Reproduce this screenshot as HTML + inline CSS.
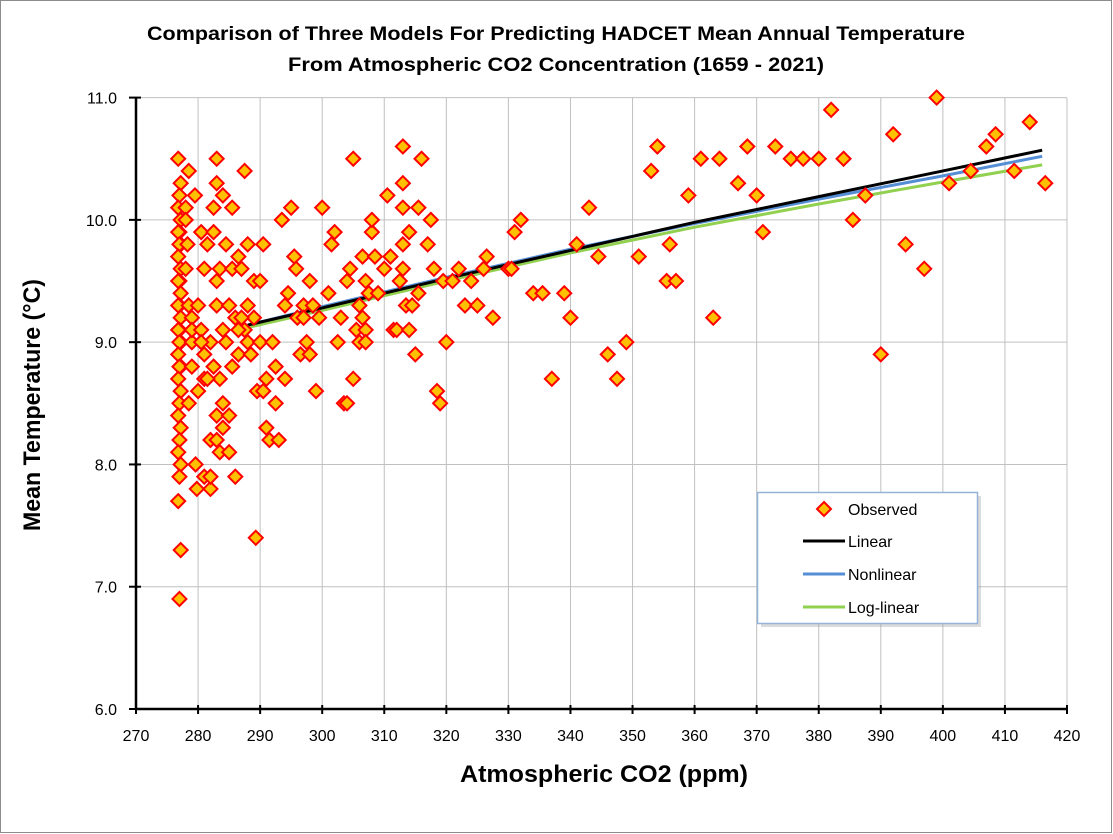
<!DOCTYPE html>
<html><head><meta charset="utf-8"><style>
body{margin:0;background:#fff}
svg{display:block;font-family:"Liberation Sans",sans-serif}
</style></head><body>
<svg id="chart" width="1113" height="834">
<rect x="0.5" y="0.5" width="1111" height="832" fill="#fff" stroke="#8c8c8c"/>
<text x="556" y="40" text-anchor="middle" font-size="19" font-weight="bold" textLength="818" lengthAdjust="spacingAndGlyphs">Comparison of Three Models For Predicting HADCET Mean Annual Temperature</text>
<text x="556" y="71" text-anchor="middle" font-size="19" font-weight="bold" textLength="536" lengthAdjust="spacingAndGlyphs">From Atmospheric CO2 Concentration (1659 - 2021)</text>
<text transform="translate(40,405) rotate(-90)" text-anchor="middle" font-size="24" font-weight="bold" textLength="252" lengthAdjust="spacingAndGlyphs">Mean Temperature (°C)</text>
<text x="604" y="782" text-anchor="middle" font-size="24" font-weight="bold" textLength="288" lengthAdjust="spacingAndGlyphs">Atmospheric CO2 (ppm)</text>
<g id="grid"></g><g id="lines"></g><g id="points"></g><g id="axes"></g>
<g>
<rect x="761" y="496" width="220" height="131" fill="#999" opacity="0.35"/>
<rect x="757.5" y="492.5" width="220" height="131" fill="#fff" stroke="#95b3d7" stroke-width="1.5"/>
<path d="M824 502 L831 509 L824 516 L817 509 Z" fill="#ffc000" stroke="#ff0000" stroke-width="2"/>
<text x="848" y="515" font-size="16">Observed</text>
<line x1="803" y1="541" x2="845" y2="541" stroke="#000" stroke-width="3"/>
<text x="848" y="547" font-size="16">Linear</text>
<line x1="803" y1="574" x2="845" y2="574" stroke="#558ed5" stroke-width="3"/>
<text x="848" y="580" font-size="16">Nonlinear</text>
<line x1="803" y1="607" x2="845" y2="607" stroke="#92d050" stroke-width="3"/>
<text x="848" y="613" font-size="16">Log-linear</text>
</g>
</svg>
<script>
const xTicks=[270,280,290,300,310,320,330,340,350,360,370,380,390,400,410,420];
const yTicks=[6,7,8,9,10,11];
const yTickLabels=["6.0","7.0","8.0","9.0","10.0","11.0"];
const col277=[10.5,10.3,10.2,10.1,10.0,9.9,9.9,9.8,9.8,9.7,9.6,9.5,9.5,9.4,9.3,9.3,9.2,9.1,9.1,9.0,9.0,8.9,8.8,8.8,8.7,8.6,8.5,8.4,8.3,8.2,8.1,8.0,7.9,7.7,7.3,6.9];
const obsX=[278.5,278,278,278.3,279,279,279,278.5,278,278.5,279.5,279,279.6,279.8,280,280,280.5,281,280.5,281,281,281,281.5,282,282,282,282,282.5,282.5,283,283,283,283,283,283,283.5,283.5,283.5,284,284,284,284,284.5,285,285,285,285.5,285.5,286,286,286.5,286.5,287,287.5,287.5,288,288,288,289,289,289.3,289.5,290,290,290.5,290.5,291,291,291.5,292,292.5,292.5,293,293.5,294,294,294.5,295,295.5,295.8,296,296.5,297,297,297.5,298,298,298.5,299,299.5,300,301,301.5,302,302.5,303,303.5,304,304,304.5,305,305,305.5,306,306,306.5,306.5,307,307,307,307.5,308,308,308.5,309,310,310.5,311,311.5,312,312.5,313,313,313,313,313,313.5,314,314,314.5,315,315.5,315.5,316,317,317.5,318,318.5,319,319.5,320,321,322,323,324,325,326,326.5,327.5,330,330.5,331,332,334,335.5,337,339,340,341,343,344.5,346,347.5,349,351,353,354,355.5,356,357,359,361,363,364,367,368.5,370,371,373,375.5,377.5,380,382,384,385.5,387.5,390,392,394,397,399,401,404.5,407,408.5,411.5,414,416.5,280.5,281.5,282.5,284.5,285.5,286.5,287,288.5];
const obsY=[10.4,10.1,10.0,9.8,9.2,9.0,8.8,8.5,9.6,9.3,10.2,9.1,8.0,7.8,8.6,9.3,9.9,9.6,9.1,8.9,8.7,7.9,9.8,9.0,8.2,7.8,7.9,10.1,9.9,10.5,10.3,9.5,9.3,8.4,8.2,9.6,8.7,8.1,10.2,9.1,8.5,8.3,9.8,9.3,8.4,8.1,10.1,9.6,9.2,7.9,9.7,8.9,9.6,10.4,9.1,9.8,9.3,9.0,9.5,9.2,7.4,8.6,9.5,9.0,9.8,8.6,8.7,8.3,8.2,9.0,8.8,8.5,8.2,10.0,9.3,8.7,9.4,10.1,9.7,9.6,9.2,8.9,9.3,9.2,9.0,9.5,8.9,9.3,8.6,9.2,10.1,9.4,9.8,9.9,9.0,9.2,8.5,9.5,8.5,9.6,10.5,8.7,9.1,9.3,9.0,9.7,9.2,9.5,9.1,9.0,9.4,9.9,10.0,9.7,9.4,9.6,10.2,9.7,9.1,9.1,9.5,10.6,10.3,10.1,9.8,9.6,9.3,9.9,9.1,9.3,8.9,10.1,9.4,10.5,9.8,10.0,9.6,8.6,8.5,9.5,9.0,9.5,9.6,9.3,9.5,9.3,9.6,9.7,9.2,9.6,9.6,9.9,10.0,9.4,9.4,8.7,9.4,9.2,9.8,10.1,9.7,8.9,8.7,9.0,9.7,10.4,10.6,9.5,9.8,9.5,10.2,10.5,9.2,10.5,10.3,10.6,10.2,9.9,10.6,10.5,10.5,10.5,10.9,10.5,10.0,10.2,8.9,10.7,9.8,9.6,11.0,10.3,10.4,10.6,10.7,10.4,10.8,10.3,9.0,8.7,8.8,9.0,8.8,9.1,9.2,8.9];
const fitX=[288,300,320,340,360,380,400,416];
const linearY=[9.14,9.28,9.52,9.75,9.98,10.19,10.40,10.57];
const nonlinearY=[9.14,9.29,9.53,9.76,9.97,10.17,10.36,10.52];
const loglinearY=[9.12,9.26,9.50,9.73,9.94,10.13,10.31,10.45];
const NS="http://www.w3.org/2000/svg";
const X0=136,X1=1067,Y0=709,Y1=97.6;
const sx=v=>X0+(v-270)/(420-270)*(X1-X0);
const sy=v=>Y0-(v-6)/(11-6)*(Y0-Y1);
function mk(t,a,p){const e=document.createElementNS(NS,t);for(const k in a)e.setAttribute(k,a[k]);p.appendChild(e);return e;}
const grid=document.getElementById('grid'),axes=document.getElementById('axes');
xTicks.forEach((t,i)=>{
 if(i>0){const g=mk('line',{x1:sx(t),x2:sx(t),y1:Y1,y2:Y0,stroke:'#c0c0c0','stroke-width':1},grid);
 
 }
 const tk=mk('line',{x1:sx(t),x2:sx(t),y1:Y0-4,y2:Y0+5,stroke:'#000','stroke-width':2},axes);
 
 
 const l=mk('text',{x:sx(t),y:Y0+32,'text-anchor':'middle','font-size':16},axes);l.textContent=t;
 
 
});
yTicks.forEach((t,i)=>{
 if(i>0){const g=mk('line',{x1:X0,x2:X1,y1:sy(t),y2:sy(t),stroke:'#c0c0c0','stroke-width':1},grid);
 
 }
 const tk=mk('line',{x1:X0-7,x2:X0+5,y1:sy(t),y2:sy(t),stroke:'#000','stroke-width':2},axes);
 
 
 const l=mk('text',{x:X0-19,y:sy(t)+6,'text-anchor':'end','font-size':16},axes);l.textContent=yTickLabels[i];
 
 
});
const ya=mk('line',{x1:X0,x2:X0,y1:Y1,y2:Y0,stroke:'#000','stroke-width':2.5},axes);


const xa=mk('line',{x1:X0,x2:X1,y1:Y0,y2:Y0,stroke:'#000','stroke-width':2.5},axes);


const pts=document.getElementById('points');
function diamond(x,y){const cx=sx(x),cy=sy(y);
 const d=mk('path',{d:`M${cx} ${cy-7}L${cx+7} ${cy}L${cx} ${cy+7}L${cx-7} ${cy}Z`,fill:'#ffc000',stroke:'#ff0000','stroke-width':2},pts);
 
 }
col277.forEach((v,i)=>diamond(i%3===0?276.8:(i%3===1?277.2:277),v));
obsX.forEach((x,i)=>diamond(x,obsY[i]));
const lg=document.getElementById('lines');
[[linearY,'#000','linear-line'],[nonlinearY,'#558ed5','nonlinear-line'],[loglinearY,'#92d050','loglinear-line']].reverse().forEach(([ys,c,n])=>{
 const p=mk('polyline',{points:fitX.map((x,i)=>sx(x)+','+sy(ys[i])).join(' '),fill:'none',stroke:c,'stroke-width':3},lg);
 
 
});
</script>
</body></html>
